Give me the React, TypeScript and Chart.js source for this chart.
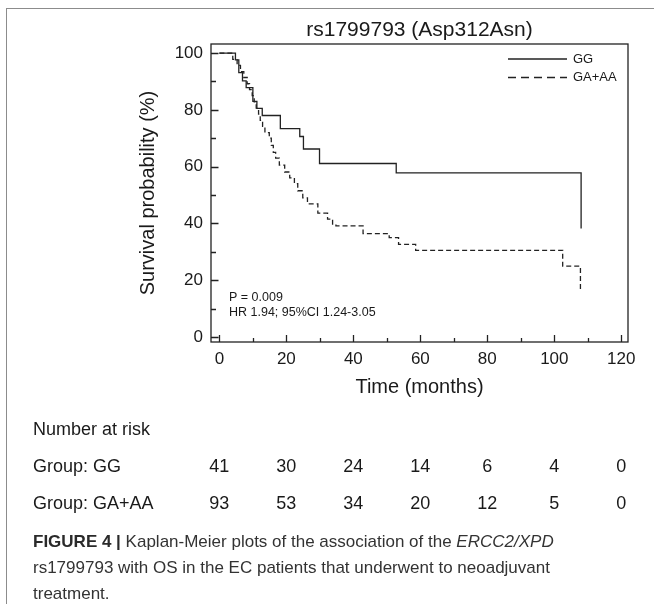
import React, { useEffect, useRef } from "react";
import { Chart, registerables } from "chart.js";

Chart.register(...registerables);

const chartTitle = "rs1799793 (Asp312Asn)";
const xTitle = "Time (months)";
const yTitle = "Survival probability (%)";
const seriesNames = ["GG", "GA+AA"];

const ggTimes = [0, 4.8, 5.8, 6.9, 8.0, 10.0, 11.2, 12.8, 18.2, 24.0, 25.1, 29.9, 52.8, 108.0];
const ggSurv = [100, 97.6, 93.1, 90.2, 87.8, 83.0, 80.5, 78.0, 73.4, 70.6, 66.2, 61.1, 57.8, 38.2];

const gaTimes = [0, 4.0, 5.3, 6.3, 7.3, 8.3, 9.0, 9.8, 10.4, 11.0, 11.7, 12.2, 12.9, 13.6, 14.9, 15.5, 16.1, 16.8, 17.9, 19.5, 21.0, 22.4, 23.4, 24.9, 26.3, 29.4, 32.3, 33.8, 34.8, 42.9, 50.7, 53.5, 58.6, 102.5, 107.8];
const gaSurv = [100, 97.8, 95.7, 93.5, 91.4, 89.2, 87.1, 85.0, 82.8, 80.6, 78.5, 76.3, 74.2, 72.0, 70.0, 67.5, 65.0, 63.0, 60.5, 58.1, 56.0, 54.0, 51.5, 49.0, 46.9, 43.6, 41.5, 39.7, 39.1, 36.4, 35.0, 32.6, 30.5, 24.9, 16.6];

const xTickValues = [0, 20, 40, 60, 80, 100, 120];
const yTickValues = [0, 20, 40, 60, 80, 100];
const xMinorValues = [0, 10, 20, 30, 40, 50, 60, 70, 80, 90, 100, 110, 120];
const yMinorValues = [0, 10, 20, 30, 40, 50, 60, 70, 80, 90, 100];

const riskTimes = [0, 20, 40, 60, 80, 100, 120];
const riskGG = [41, 30, 24, 14, 6, 4, 0];
const riskGA = [93, 53, 34, 20, 12, 5, 0];
const riskLabels = ["Group: GG", "Group: GA+AA"];

const annotations = ["P = 0.009", "HR 1.94; 95%CI 1.24-3.05"];

const FONT = '"Liberation Sans", Arial, Helvetica, sans-serif';
const INK = "#1a1a1a";

const kmPlugin = {
  id: "kmDecor",
  afterDraw(chart: any) {
    const { ctx, chartArea: a, scales } = chart;
    const x = scales.x;
    const y = scales.y;
    ctx.save();
    // box
    ctx.strokeStyle = "#222";
    ctx.lineWidth = 1.3;
    ctx.setLineDash([]);
    ctx.strokeRect(a.left, a.top, a.right - a.left, a.bottom - a.top);
    // inward ticks
    ctx.beginPath();
    xMinorValues.forEach((v) => {
      const px = Math.round(x.getPixelForValue(v)) + 0.5;
      const len = v % 20 === 0 ? 7 : 4;
      ctx.moveTo(px, a.bottom);
      ctx.lineTo(px, a.bottom - len);
    });
    yMinorValues.forEach((v) => {
      const py = Math.round(y.getPixelForValue(v)) + 0.5;
      const len = v % 20 === 0 ? 7.5 : 5;
      ctx.moveTo(a.left, py);
      ctx.lineTo(a.left + len, py);
    });
    ctx.stroke();

    ctx.fillStyle = INK;
    ctx.textBaseline = "middle";
    // title
    ctx.font = `21px ${FONT}`;
    ctx.textAlign = "center";
    ctx.fillText(chartTitle, (a.left + a.right) / 2, 30);
    // x title
    ctx.font = `20px ${FONT}`;
    ctx.fillText(xTitle, (a.left + a.right) / 2, 387);
    // y title
    ctx.save();
    ctx.translate(148, (a.top + a.bottom) / 2);
    ctx.rotate(-Math.PI / 2);
    ctx.fillText(yTitle, 0, 0);
    ctx.restore();

    // legend
    ctx.font = `13px ${FONT}`;
    ctx.textAlign = "left";
    ctx.lineWidth = 1.3;
    ctx.strokeStyle = "#222";
    ctx.beginPath();
    ctx.moveTo(508, 59);
    ctx.lineTo(567, 59);
    ctx.stroke();
    ctx.setLineDash([8, 5]);
    ctx.beginPath();
    ctx.moveTo(508, 77.5);
    ctx.lineTo(567, 77.5);
    ctx.stroke();
    ctx.setLineDash([]);
    ctx.fillText(seriesNames[0], 573, 59);
    ctx.fillText(seriesNames[1], 573, 77.5);

    // annotations
    ctx.font = `12.5px ${FONT}`;
    ctx.fillText(annotations[0], 229, 298);
    ctx.fillText(annotations[1], 229, 313);

    // risk table
    ctx.font = `18px ${FONT}`;
    ctx.textAlign = "left";
    ctx.fillText("Number at risk", 33, 430);
    ctx.fillText(riskLabels[0], 33, 467);
    ctx.fillText(riskLabels[1], 33, 504);
    ctx.textAlign = "center";
    riskTimes.forEach((t, i) => {
      const px = x.getPixelForValue(t);
      ctx.fillText(String(riskGG[i]), px, 467);
      ctx.fillText(String(riskGA[i]), px, 504);
    });
    ctx.restore();
  },
};

export default function App() {
  const ref = useRef<HTMLCanvasElement | null>(null);
  useEffect(() => {
    if (!ref.current) return;
    const chart = new Chart(ref.current, {
      type: "line",
      data: {
        datasets: [
          {
            label: seriesNames[0],
            data: ggTimes.map((t, i) => ({ x: t, y: ggSurv[i] })),
            stepped: "before",
            borderColor: "#222",
            borderWidth: 1.3,
            pointRadius: 0,
            fill: false,
          },
          {
            label: seriesNames[1],
            data: gaTimes.map((t, i) => ({ x: t, y: gaSurv[i] })),
            stepped: "before",
            borderColor: "#222",
            borderWidth: 1.3,
            borderDash: [5, 3],
            pointRadius: 0,
            fill: false,
          },
        ],
      },
      options: {
        animation: false,
        responsive: false,
        devicePixelRatio: 1,
        layout: { padding: { left: 0, top: 44, right: 26, bottom: 0 } },
        plugins: {
          legend: { display: false },
          title: { display: false },
          tooltip: { enabled: false },
        },
        scales: {
          x: {
            type: "linear",
            min: -2.5,
            max: 122,
            afterBuildTicks: (s: any) => {
              s.ticks = xTickValues.map((v) => ({ value: v }));
            },
            afterFit: (s: any) => {
              s.height = 604 - 342;
            },
            grid: { display: false, drawTicks: false },
            border: { display: false },
            ticks: {
              padding: 7,
              color: INK,
              font: { family: FONT, size: 17 },
              maxRotation: 0,
              autoSkip: false,
            },
          },
          y: {
            type: "linear",
            min: -1.8,
            max: 103.2,
            afterBuildTicks: (s: any) => {
              s.ticks = yTickValues.map((v) => ({ value: v }));
            },
            afterFit: (s: any) => {
              s.width = 211;
            },
            grid: { display: false, drawTicks: false },
            border: { display: false },
            ticks: {
              padding: 8,
              color: INK,
              font: { family: FONT, size: 17 },
              autoSkip: false,
            },
          },
        },
      },
      plugins: [kmPlugin],
    });
    return () => chart.destroy();
  }, []);

  return (
    <div style={{ position: "absolute", left: 0, top: 0, width: 654, height: 604, overflow: "hidden", background: "#fff" }}>
      <div
        style={{
          position: "absolute",
          left: 6,
          top: 8,
          right: 0,
          bottom: 0,
          borderTop: "1.5px solid #8c8c8c",
          borderLeft: "1.5px solid #8c8c8c",
        }}
      />
      <canvas ref={ref} width={654} height={604} style={{ position: "absolute", left: 0, top: 0, width: 654, height: 604 }} />
      <div
        style={{
          position: "absolute",
          left: 33,
          top: 529,
          whiteSpace: "nowrap",
          fontFamily: FONT,
          fontSize: 17,
          lineHeight: "26px",
          color: "#333",
        }}
      >
        <b style={{ color: "#2a2a2a" }}>FIGURE 4 |</b> Kaplan-Meier plots of the association of the <i>ERCC2/XPD</i>
        <br />
        rs1799793 with OS in the EC patients that underwent to neoadjuvant
        <br />
        treatment.
      </div>
    </div>
  );
}
